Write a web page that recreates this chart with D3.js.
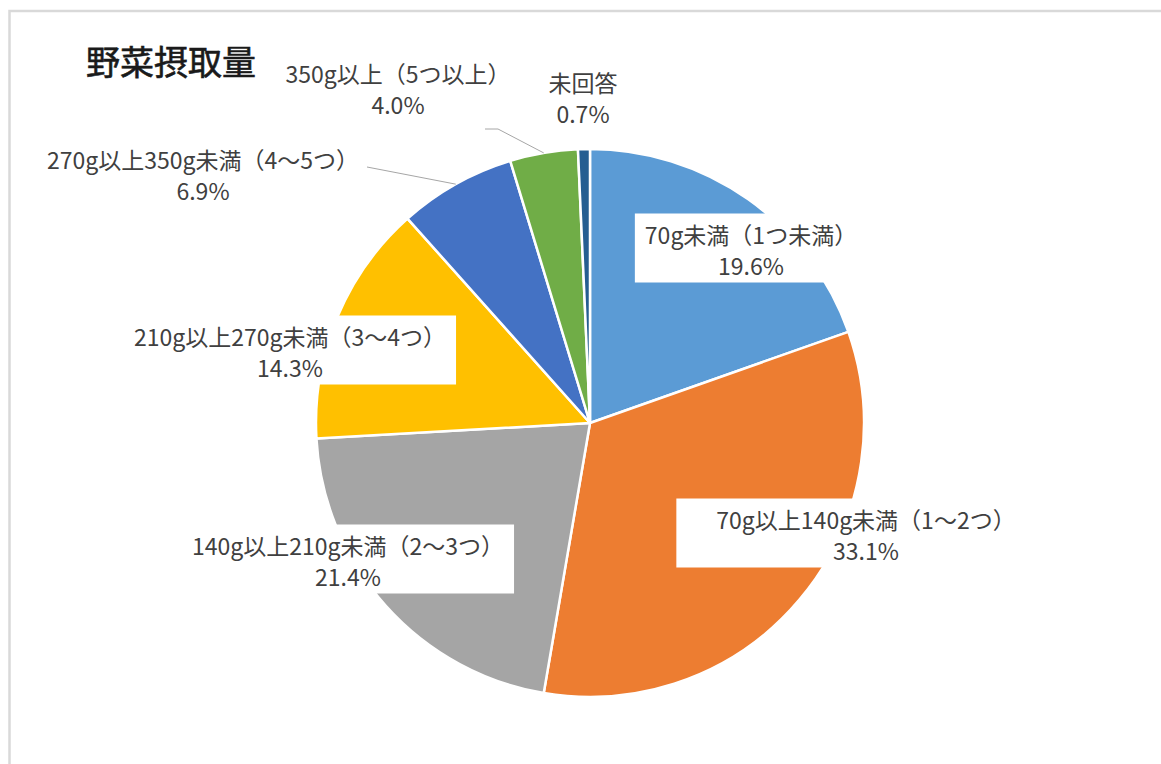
<!DOCTYPE html>
<html>
<head>
<meta charset="utf-8">
<script src="https://cdn.jsdelivr.net/npm/d3@7"></script>
<style>
  body { margin: 0; background: #fff; }
  svg { display: block; }
</style>
</head>
<body>
<div id="chart"></div>
<script>
// data
var title = "野菜摂取量";
var categories = ["70g未満（1つ未満）", "70g以上140g未満（1～2つ）", "140g以上210g未満（2～3つ）",
                  "210g以上270g未満（3～4つ）", "270g以上350g未満（4～5つ）", "350g以上（5つ以上）", "未回答"];
var values = [19.6, 33.1, 21.4, 14.3, 6.9, 4.0, 0.7];
var colors = ["#5B9BD5", "#ED7D31", "#A5A5A5", "#FFC000", "#4472C4", "#70AD47", "#255E91"];

// label placement (offset of label centre from the pie centre), boxed = white background
var labelAt = [
  {dx: 161, dy: -174, boxed: true, padL: 10},
  {dx: 276, dy: 111, boxed: true, padL: 40},
  {dx: -242, dy: 137, boxed: true, padL: 10},
  {dx: -300, dy: -72, boxed: true, padL: 10},
  {dx: -387, dy: -249, boxed: false, leader: [[164, -7]]},
  {dx: -192, dy: -335, boxed: false, leader: [[87, 41], [100, 41]]},
  {dx: -7, dy: -326, boxed: false}
];

var width = 1161, height = 764;
var cx = 590, cy = 423, radius = 274;
var lineGap = 31;

var svg = d3.select("#chart").append("svg")
  .attr("width", width)
  .attr("height", height);

// chart frame
svg.append("rect")
  .attr("x", 9.5).attr("y", 11)
  .attr("width", width + 20).attr("height", height + 20)
  .style("fill", "#fff")
  .style("stroke", "#d9d9d9")
  .style("stroke-width", 2.5);

svg.append("text")
  .attr("x", 86).attr("y", 60)
  .attr("dominant-baseline", "central")
  .style("font-family", "'Noto Sans CJK JP', sans-serif")
  .style("font-size", "34px")
  .style("font-weight", "400")
  .style("fill", "#1a1a1a")
  .style("stroke", "#1a1a1a")
  .style("stroke-width", 0.6)
  .text(title);

var g = svg.append("g").attr("transform", "translate(" + cx + "," + cy + ")");

var pie = d3.pie().sort(null).value(function(d) { return d; });
var arcs = pie(values);
var arc = d3.arc().innerRadius(0).outerRadius(radius);

g.selectAll(".slice")
  .data(arcs)
  .enter()
  .append("path")
  .attr("class", "slice")
  .attr("d", arc)
  .style("fill", function(d, i) { return colors[i]; })
  .style("stroke", "#fff")
  .style("stroke-width", 2.5)
  .style("stroke-linejoin", "round");

// leader lines to the outer arc at mid angle
arcs.forEach(function(d, i) {
  var L = labelAt[i];
  if (!L.leader) return;
  var mid = (d.startAngle + d.endAngle) / 2;
  var pts = L.leader.map(function(p) { return [L.dx + p[0], L.dy + p[1]]; });
  pts.push([Math.sin(mid) * radius, -Math.cos(mid) * radius]);
  g.append("path")
    .attr("d", d3.line()(pts))
    .style("fill", "none")
    .style("stroke", "#a6a6a6")
    .style("stroke-width", 1);
});

// labels
var labels = g.selectAll(".label")
  .data(arcs)
  .enter()
  .append("g")
  .attr("class", "label")
  .attr("transform", function(d, i) { return "translate(" + labelAt[i].dx + "," + labelAt[i].dy + ")"; });

labels.each(function(d, i) {
  var lab = d3.select(this);
  var box = lab.append("rect").style("fill", "#fff");
  var txt = lab.append("text")
    .attr("text-anchor", "middle")
    .style("font-family", "'Noto Sans CJK JP', sans-serif")
    .style("font-size", "23px")
    .style("fill", "#404040");
  txt.append("tspan").attr("x", 0).attr("y", -lineGap / 2).attr("dominant-baseline", "central").text(categories[i]);
  txt.append("tspan").attr("x", 0).attr("y", lineGap / 2).attr("dominant-baseline", "central").text(values[i].toFixed(1) + "%");
  if (labelAt[i].boxed) {
    var w = txt.node().getBBox().width;
    box.attr("x", -w / 2 - labelAt[i].padL).attr("y", -lineGap / 2 - 20)
      .attr("width", w + labelAt[i].padL + 10).attr("height", lineGap + 38);
  } else {
    box.remove();
  }
});
</script>
</body>
</html>
